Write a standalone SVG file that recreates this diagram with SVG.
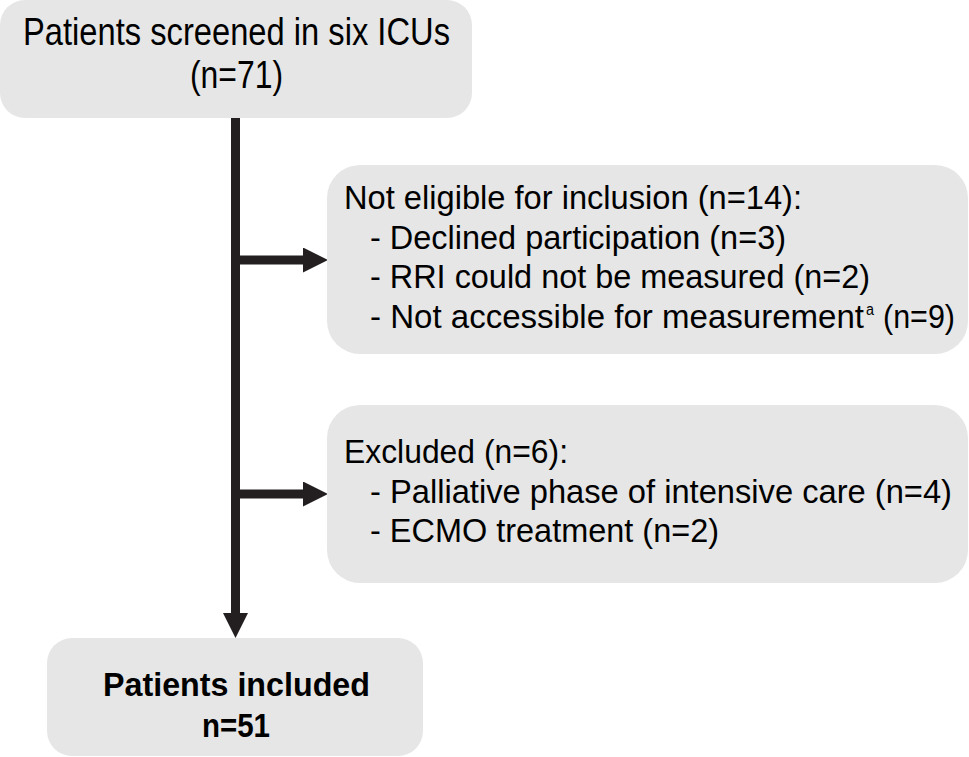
<svg xmlns="http://www.w3.org/2000/svg" width="969" height="757" viewBox="0 0 969 757">
<style>
.box{fill:#e6e6e6;}
.t{font-family:"Liberation Sans",Arial,sans-serif;fill:#000;}
.b{font-weight:bold;}
.conn{stroke:#231f20;stroke-width:9;fill:none;}
</style>
<defs>
<marker id="ah" viewBox="0 0 25 25" refX="0" refY="12.5" markerWidth="25" markerHeight="25" markerUnits="userSpaceOnUse" orient="auto">
<path d="M0,0 L25,12.5 L0,25 Z" fill="#231f20"/>
</marker>
</defs>
<g id="connectors">
<line class="conn" x1="235.5" y1="118" x2="235.5" y2="613" marker-end="url(#ah)"/>
<line class="conn" x1="231" y1="260" x2="303" y2="260" marker-end="url(#ah)"/>
<line class="conn" x1="231" y1="494" x2="303" y2="494" marker-end="url(#ah)"/>
</g>
<g id="screened">
<rect class="box" x="0" y="0" width="472" height="118" rx="25" ry="25"/>
<text class="t" x="23" y="45" font-size="39" textLength="427" lengthAdjust="spacingAndGlyphs">Patients screened in six ICUs</text>
<text class="t" x="190" y="88" font-size="39" textLength="93" lengthAdjust="spacingAndGlyphs">(n=71)</text>
</g>
<g id="noteligible">
<rect class="box" x="327" y="165" width="641" height="189" rx="33" ry="33"/>
<text class="t" x="344" y="209" font-size="33" textLength="458" lengthAdjust="spacingAndGlyphs">Not eligible for inclusion (n=14):</text>
<text class="t" x="370" y="249" font-size="33" textLength="416" lengthAdjust="spacingAndGlyphs">- Declined participation (n=3)</text>
<text class="t" x="370" y="288" font-size="33" textLength="500" lengthAdjust="spacingAndGlyphs">- RRI could not be measured (n=2)</text>
<text class="t" x="370" y="328" font-size="33" textLength="494" lengthAdjust="spacingAndGlyphs">- Not accessible for measurement</text>
<text class="t" x="866" y="315" font-size="16" textLength="8" lengthAdjust="spacingAndGlyphs">a</text>
<text class="t" x="883" y="328" font-size="33" textLength="72" lengthAdjust="spacingAndGlyphs">(n=9)</text>
</g>
<g id="excluded">
<rect class="box" x="327" y="405" width="641" height="178" rx="33" ry="33"/>
<text class="t" x="344" y="463" font-size="33" textLength="224" lengthAdjust="spacingAndGlyphs">Excluded (n=6):</text>
<text class="t" x="370" y="503" font-size="33" textLength="582" lengthAdjust="spacingAndGlyphs">- Palliative phase of intensive care (n=4)</text>
<text class="t" x="370" y="542" font-size="33" textLength="349" lengthAdjust="spacingAndGlyphs">- ECMO treatment (n=2)</text>
</g>
<g id="included">
<rect class="box" x="47" y="638" width="376" height="118" rx="25" ry="25"/>
<text class="t b" x="103" y="696" font-size="34" textLength="267" lengthAdjust="spacingAndGlyphs">Patients included</text>
<text class="t b" x="202" y="737" font-size="34" textLength="68" lengthAdjust="spacingAndGlyphs">n=51</text>
</g>
</svg>
